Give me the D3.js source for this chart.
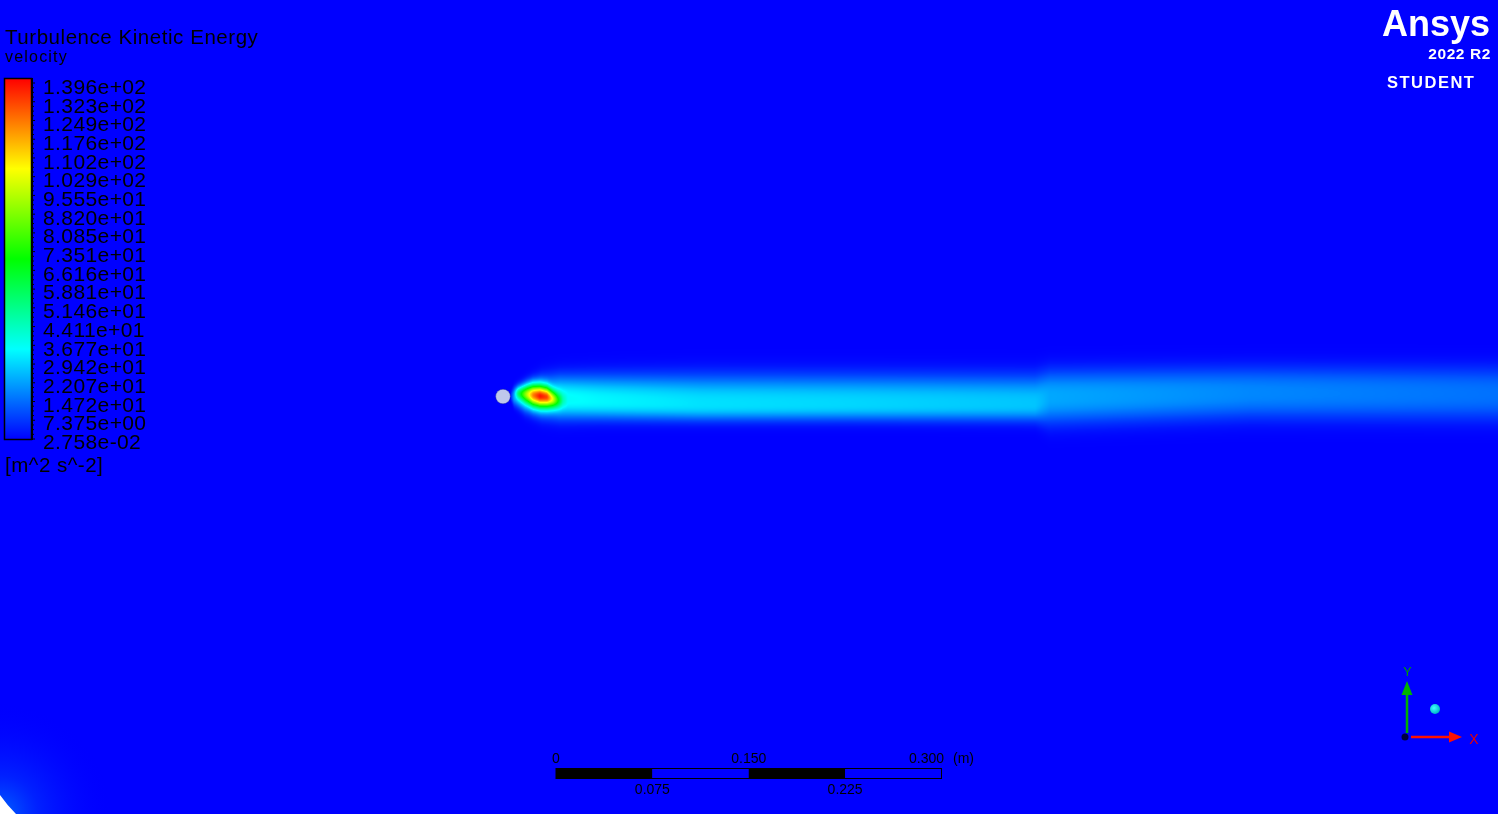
<!DOCTYPE html>
<html><head><meta charset="utf-8">
<script src="https://cdn.jsdelivr.net/npm/d3@7"></script>
<style>
html,body{margin:0;padding:0;background:#0000ff;overflow:hidden}
#wrap{position:relative;width:1498px;height:814px}
canvas,svg{position:absolute;left:0;top:0}
text{font-family:"Liberation Sans",Arial,sans-serif}
</style></head><body><div id="wrap"><canvas id="field" width="1498" height="814"></canvas><svg id="chart" width="1498" height="814"></svg></div>
<script>
// ---------------- data ----------------
const title = "Turbulence Kinetic Energy";
const subtitle = "velocity";
const units = "[m^2 s^-2]";
const kMin = 0.02758, kMax = 139.6;
const legendLabels = ["1.396e+02","1.323e+02","1.249e+02","1.176e+02","1.102e+02","1.029e+02","9.555e+01","8.820e+01","8.085e+01","7.351e+01","6.616e+01","5.881e+01","5.146e+01","4.411e+01","3.677e+01","2.942e+01","2.207e+01","1.472e+01","7.375e+00","2.758e-02"];
const legendValues = [139.6,132.3,124.9,117.6,110.2,102.9,95.55,88.20,80.85,73.51,66.16,58.81,51.46,44.11,36.77,29.42,22.07,14.72,7.375,0.02758];
const colorStops = ["#0000ff","#00ffff","#00ff00","#ffff00","#ff0000"];

// outer wake: stations x (m downstream of origin), centreline k (m^2 s^-2),
// centre y (m), half widths above / below the centre (m)
const wakeX          = [-0.0358,-0.0327,-0.0241,-0.0109,0.0031,0.0342,0.1121,0.2288,0.3728,0.3844,0.5401,0.7331];
const wakeK          = [0, 22, 30, 34, 36, 34, 31, 29.5, 27, 23, 18.5, 15.5];
const wakeCenterY    = [0, 0, -0.0016, -0.0016, -0.0023, -0.0039, -0.0062, -0.0062, -0.0062, -0.0008, 0.0023, 0.0016];
const wakeHalfUpper  = [0.0039,0.0086,0.0140,0.0202,0.0226,0.0249,0.0280,0.0280,0.0280,0.0265,0.0257,0.0265];
const wakeHalfLower  = [0.0039,0.0093,0.0140,0.0187,0.0195,0.0179,0.0163,0.0163,0.0171,0.0265,0.0257,0.0265];
// hot core just behind the cylinder (added to the outer wake)
const coreX          = [-0.0327,-0.0296,-0.0226,-0.0179,-0.0125,-0.0070,-0.0023,0.0016,0.0054,0.0093];
const coreK          = [0, 30, 65, 90, 104, 96, 65, 35, 10, 0];
const coreCenterY    = [0.0023,0.0023,0.0016,0.0008,0,-0.0008,-0.0023,-0.0031,-0.0031,-0.0031];
const coreHalfWidth  = [0.0062,0.0078,0.0109,0.0125,0.0125,0.0117,0.0101,0.0093,0.0086,0.0078];

const cylinder = {x: -0.04125, y: 0, r: 0.0057};
const scaleTicks = [0, 0.075, 0.15, 0.225, 0.3];
const scaleTickLabels = ["0","0.075","0.150","0.225","0.300"];
const scaleUnit = "(m)";

// ---------------- scales ----------------
const xM = d3.scaleLinear().domain([0, 0.3]).range([556, 941.5]);
const yM = d3.scaleLinear().domain([0, 0.3]).range([396, 396 - 385.5]);
const pxPerM = 385.5 / 0.3;
const color = d3.scaleLinear()
  .domain(d3.range(5).map(i => kMin + i * (kMax - kMin) / 4))
  .range(colorStops).clamp(true);

const interp = (xs, vs) => d3.scaleLinear().domain(xs).range(vs).clamp(true);
const kAt = interp(wakeX, wakeK), ycAt = interp(wakeX, wakeCenterY);
const huAt = interp(wakeX, wakeHalfUpper), hlAt = interp(wakeX, wakeHalfLower);
const ckAt = interp(coreX, coreK), cycAt = interp(coreX, coreCenterY), chwAt = interp(coreX, coreHalfWidth);

// ---------------- field (canvas) ----------------
const cv = document.getElementById("field");
const ctx = cv.getContext("2d");
ctx.fillStyle = "#0000ff";
ctx.fillRect(0, 0, 1498, 814);
const x0 = Math.floor(xM(wakeX[0])), x1 = 1498;
const y0 = 320, y1 = 480;
const img = ctx.getImageData(x0, y0, x1 - x0, y1 - y0);
const lut = d3.range(0, 1001).map(i => d3.rgb(color(kMin + i * (kMax - kMin) / 1000)));
for (let px = x0; px < x1; px++) {
  const xm = xM.invert(px + 0.5);
  const kc = xm < wakeX[0] ? 0 : kAt(xm), yc = ycAt(xm), hu = huAt(xm), hl = hlAt(xm);
  const inCore = xm >= coreX[0] && xm <= coreX[coreX.length - 1];
  const ck = inCore ? ckAt(xm) : 0, cyc = cycAt(xm), chw = chwAt(xm);
  for (let py = y0; py < y1; py++) {
    const ym = yM.invert(py + 0.5);
    const d = ym - yc;
    const eta = Math.abs(d) / (d > 0 ? hu : hl);
    let k = kc * Math.exp(-2 * Math.pow(eta, 2.5));
    if (ck > 0) {
      const e2 = (ym - cyc) / chw;
      k += ck * Math.exp(-2.3 * e2 * e2);
    }
    const t = Math.max(0, Math.min(1000, Math.round((k - kMin) / (kMax - kMin) * 1000)));
    const c = lut[t];
    const idx = ((py - y0) * (x1 - x0) + (px - x0)) * 4;
    img.data[idx] = c.r; img.data[idx + 1] = c.g; img.data[idx + 2] = c.b; img.data[idx + 3] = 255;
  }
}
ctx.putImageData(img, x0, y0);

// ---------------- svg overlay ----------------
const svg = d3.select("#chart");
const defs = svg.append("defs");

// bottom-left domain corner
const rg = defs.append("radialGradient").attr("id", "glow")
  .attr("gradientUnits", "userSpaceOnUse").attr("cx", 0).attr("cy", 814).attr("r", 110);
rg.append("stop").attr("offset", 0).attr("stop-color", "#0070ff").attr("stop-opacity", 0.9);
rg.append("stop").attr("offset", 0.35).attr("stop-color", "#0040ff").attr("stop-opacity", 0.5);
rg.append("stop").attr("offset", 1).attr("stop-color", "#0000ff").attr("stop-opacity", 0);
svg.append("rect").attr("x", 0).attr("y", 700).attr("width", 120).attr("height", 114).attr("fill", "url(#glow)");
svg.append("path").attr("d", "M0,795 Q7,805 16,814 L0,814 Z").attr("fill", "#ffffff");

// cylinder
svg.append("circle")
  .attr("cx", xM(cylinder.x)).attr("cy", yM(cylinder.y) + 0.5).attr("r", cylinder.r * pxPerM)
  .attr("fill", "#bec7ec").attr("stroke", "#1a2a80").attr("stroke-width", 0.6).attr("stroke-opacity", 0.6);

// legend
svg.append("text").attr("x", 5).attr("y", 44).attr("font-size", 20.5).attr("letter-spacing", 0.55)
  .attr("fill", "#000").text(title);
svg.append("text").attr("x", 5).attr("y", 61.5).attr("font-size", 16).attr("letter-spacing", 1.2)
  .attr("fill", "#000").text(subtitle);

const lg = defs.append("linearGradient").attr("id", "cbar").attr("x1", 0).attr("y1", 1).attr("x2", 0).attr("y2", 0);
colorStops.forEach((c, i) => lg.append("stop").attr("offset", i / (colorStops.length - 1)).attr("stop-color", c));
const barTop = 78, barBot = 439;
svg.append("rect").attr("x", 4.5).attr("y", barTop + 0.5).attr("width", 27).attr("height", barBot - barTop)
  .attr("fill", "url(#cbar)").attr("stroke", "#000").attr("stroke-width", 1.5);
svg.append("line").attr("x1", 32).attr("x2", 32).attr("y1", barTop).attr("y2", barBot + 1)
  .attr("stroke", "#000").attr("stroke-width", 2);

const labelY = d3.scaleLinear().domain([kMin, kMax]).range([449, 94]);
const tickY = d3.scaleLinear().domain([kMin, kMax]).range([barBot, barTop + 5]);
const minorVals = d3.range(0, 77).map(i => kMin + i * (kMax - kMin) / 76);
svg.append("g").selectAll("line").data(minorVals).join("line")
  .attr("x1", 32).attr("x2", (d, i) => i % 4 === 0 ? 35 : 34)
  .attr("y1", d => tickY(d)).attr("y2", d => tickY(d))
  .attr("stroke", "#000").attr("stroke-width", 1);
svg.append("g").selectAll("text").data(legendValues).join("text")
  .attr("x", 43).attr("y", d => labelY(d)).attr("font-size", 21).attr("letter-spacing", 0.4)
  .attr("fill", "#000").text((d, i) => legendLabels[i]);
svg.append("text").attr("x", 5).attr("y", 472).attr("font-size", 20.5).attr("letter-spacing", 0.5)
  .attr("fill", "#000").text(units);

// logo
svg.append("text").attr("x", 1490).attr("y", 36).attr("text-anchor", "end").attr("font-size", 36)
  .attr("font-weight", "bold").attr("fill", "#fff").text("Ansys");
svg.append("text").attr("x", 1491).attr("y", 58.5).attr("text-anchor", "end").attr("font-size", 15.5)
  .attr("font-weight", "bold").attr("letter-spacing", 0.6).attr("fill", "#fff").text("2022 R2");
svg.append("text").attr("x", 1387).attr("y", 87.5).attr("font-size", 16.5)
  .attr("font-weight", "bold").attr("letter-spacing", 1.5).attr("fill", "#fff").text("STUDENT");

// scale bar
const sb = svg.append("g");
const segs = d3.pairs(scaleTicks);
sb.selectAll("rect").data(segs).join("rect")
  .attr("x", d => xM(d[0])).attr("y", 768.5).attr("width", d => xM(d[1]) - xM(d[0])).attr("height", 10)
  .attr("fill", (d, i) => i % 2 === 0 ? "#000" : "#0000ff");
sb.append("rect").attr("x", xM(0)).attr("y", 768.5).attr("width", xM(0.3) - xM(0)).attr("height", 10)
  .attr("fill", "none").attr("stroke", "#000").attr("stroke-width", 1);
sb.selectAll("text.t").data(scaleTicks).join("text").attr("class", "t")
  .attr("x", (d, i) => i === scaleTicks.length - 1 ? xM(d) + 2.5 : xM(d))
  .attr("y", (d, i) => i % 2 === 0 ? 763 : 793.5)
  .attr("text-anchor", (d, i) => i === scaleTicks.length - 1 ? "end" : "middle")
  .attr("font-size", 14).attr("fill", "#000").text((d, i) => scaleTickLabels[i]);
sb.append("text").attr("x", 953).attr("y", 763).attr("font-size", 14).attr("fill", "#000").text(scaleUnit);

// axis triad
const tr = svg.append("g");
tr.append("line").attr("x1", 1407).attr("x2", 1407).attr("y1", 733).attr("y2", 692)
  .attr("stroke", "#00b000").attr("stroke-width", 2.5);
tr.append("path").attr("d", "M1407,681 L1401.5,695 L1412.5,695 Z").attr("fill", "#00b400");
tr.append("text").attr("x", 1407.5).attr("y", 676).attr("text-anchor", "middle").attr("font-size", 12.5)
  .attr("fill", "#00a000").text("Y");
tr.append("line").attr("x1", 1411).attr("x2", 1451).attr("y1", 737).attr("y2", 737)
  .attr("stroke", "#ff1000").attr("stroke-width", 2.5);
tr.append("path").attr("d", "M1462,737 L1449,731.5 L1449,742.5 Z").attr("fill", "#ff1000");
tr.append("text").attr("x", 1474).attr("y", 743.5).attr("text-anchor", "middle").attr("font-size", 14)
  .attr("fill", "#e80000").text("X");
tr.append("circle").attr("cx", 1405).attr("cy", 737).attr("r", 3.5).attr("fill", "#000040");
const sg = defs.append("radialGradient").attr("id", "sph").attr("cx", 0.4).attr("cy", 0.4).attr("r", 0.6);
sg.append("stop").attr("offset", 0).attr("stop-color", "#40ffff");
sg.append("stop").attr("offset", 1).attr("stop-color", "#00b8c8");
tr.append("circle").attr("cx", 1435).attr("cy", 709).attr("r", 5).attr("fill", "url(#sph)");
</script></body></html>
